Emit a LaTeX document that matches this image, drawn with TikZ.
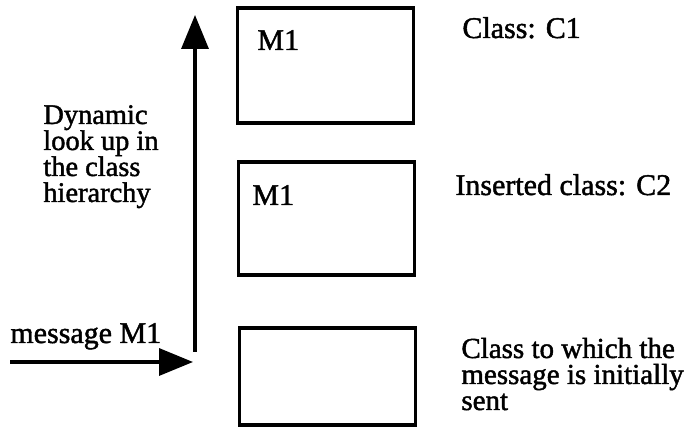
\documentclass[tikz,border=0pt]{standalone}
\usepackage{fontspec}
\setmainfont{Liberation Serif}[FakeBold=1.5]
\usetikzlibrary{arrows.meta,positioning}
% keep the baselineskip even where ascenders meet descenders
\newcommand{\tightlines}{\lineskiplimit=-1000pt\relax}

\begin{document}
\begin{tikzpicture}[x=0.5pt, y=-0.5pt,
    classbox/.style={draw, line width=1.7pt, inner sep=0pt, outer sep=0pt, minimum width=88pt},
    txt/.style={font=\fontsize{15pt}{12.8pt}\selectfont\tightlines, inner sep=0pt, anchor=base west, align=left},
    lookup/.style={line width=1.7pt, -{Triangle[length=17pt, width=13.5pt]}}
  ]
  \useasboundingbox (0,0) rectangle (691,442);

  % class chain, superclass on top
  \node[classbox, minimum height=57.5pt] (c1) at (325.5,65.5) {};
  \node[classbox, minimum height=56.5pt] (c2) at (326.5,218.5) {};
  \node[classbox, minimum height=48.5pt] (c0) at (327.5,376.5) {};

  % method M1 found in C1 and C2
  \node[txt] (m1a) at (257,50) {M1};
  \node[txt] (m1b) at (252,205) {M1};

  % multi-line nodes sit on the baseline of their last line
  \node[txt] (c1lbl) at (462,38) {Class: C1};
  \node[txt] (c2lbl) at (455,195) {Inserted class: C2};
  \node[txt, font=\fontsize{14.5pt}{13pt}\selectfont\tightlines] (c0lbl) at (461,410) {Class to which the\\message is initially\\sent};

  \node[txt, font=\fontsize{14.2pt}{13pt}\selectfont\tightlines] (dyn) at (43,202) {Dynamic\\look up in\\the class\\hierarchy};
  \node[txt] (msg) at (10,343) {message M1};

  % incoming message, then the search upwards
  \coordinate (msgin) at (10,362);
  \coordinate (msgend) at (193,362);
  \coordinate (lookbase) at (195,352);
  \coordinate (looktop) at (195,15);
  \draw[lookup] (msgin) -- (msgend);
  \draw[lookup] (lookbase) -- (looktop);
\end{tikzpicture}
\end{document}
